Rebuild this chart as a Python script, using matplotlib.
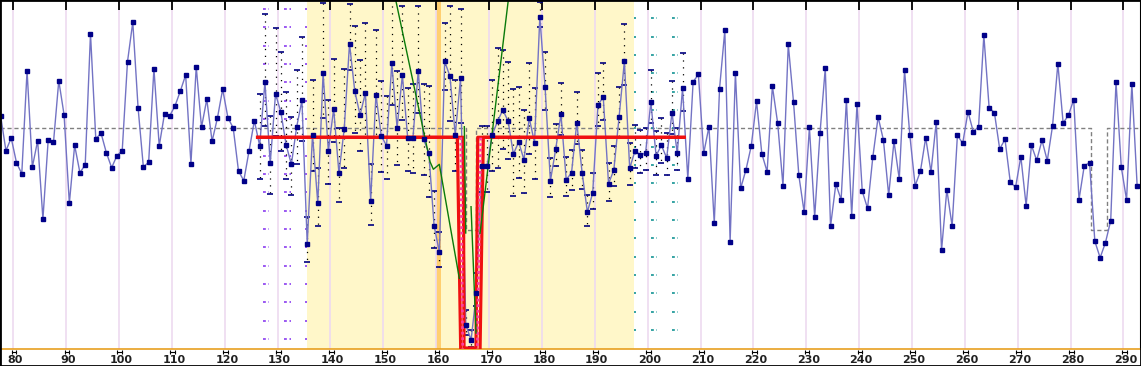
import numpy as np
import matplotlib
matplotlib.use('Agg')
import matplotlib.pyplot as plt
from matplotlib.patches import Rectangle
from matplotlib.transforms import ScaledTranslation

# cadence numbers and measured depth (screen-like units, larger = fainter)
first_cadence = 77
depth = [
    115.7, 150.7, 138.0, 162.7, 173.7, 70.7, 167.0, 140.7, 219.0, 139.7,   # 77-86
    142.3, 80.7, 114.7, 203.3, 145.3, 172.7, 164.7, 33.7, 138.7, 133.3,    # 87-96
    152.7, 167.7, 155.7, 150.7, 61.7, 22.0, 107.7, 167.0, 162.3, 68.7,     # 97-106
    146.0, 113.7, 115.7, 105.7, 91.0, 75.0, 163.7, 66.7, 127.3, 99.3,      # 107-116
    141.3, 118.3, 89.3, 117.7, 128.0, 171.0, 180.7, 150.7, 120.7, 145.7,   # 117-126
    82.0, 163.3, 94.0, 111.7, 144.7, 164.3, 127.0, 100.3, 243.7, 134.7,    # 127-136
    203.3, 73.3, 151.0, 108.7, 173.3, 128.7, 43.7, 91.3, 115.0, 93.0,      # 137-146
    200.7, 94.7, 135.7, 145.7, 63.3, 128.0, 75.0, 137.7, 137.7, 71.0,      # 147-156
    139.3, 152.7, 225.7, 252.3, 61.3, 76.3, 135.0, 78.3, 325.0, 340.0,     # 157-166
    292.7, 166.3, 166.3, 134.7, 121.3, 110.0, 121.0, 154.0, 142.0, 159.7,  # 167-176
    118.0, 142.7, 17.0, 87.3, 181.0, 149.3, 114.3, 179.7, 172.7, 122.7,    # 177-186
    172.7, 212.0, 193.0, 105.0, 97.0, 183.7, 170.0, 116.7, 61.3, 168.3,    # 187-196
    151.0, 154.7, 153.3, 102.0, 155.7, 145.3, 158.0, 112.7, 153.0, 88.3,   # 197-206
    178.7, 82.0, 74.3, 153.3, 126.7, 223.3, 88.7, 30.3, 241.7, 72.7,       # 207-216
    188.3, 169.7, 146.0, 101.3, 153.7, 171.7, 86.3, 123.3, 185.7, 44.3,    # 217-226
    102.3, 175.3, 212.0, 127.3, 217.0, 133.3, 68.3, 226.3, 184.0, 199.7,   # 227-236
    100.0, 216.0, 104.0, 191.3, 208.3, 157.0, 117.0, 140.0, 195.3, 141.3,  # 237-246
    179.0, 70.3, 135.3, 185.7, 171.3, 137.7, 172.0, 121.7, 250.0, 189.7,   # 247-256
    226.0, 135.3, 143.3, 111.7, 131.7, 126.7, 35.3, 107.7, 112.7, 149.0,   # 257-266
    139.3, 182.0, 187.3, 156.7, 205.7, 145.3, 160.3, 140.3, 160.7, 125.7,  # 267-276
    63.7, 123.0, 115.3, 99.7, 199.7, 165.7, 162.7, 241.3, 257.7, 242.7,    # 277-286
    220.7, 81.7, 167.0, 200.0, 84.0, 185.7,                                # 287-292
]
cadence_offset = 0.6

# error bars for cadences 126-206 (toward top / toward bottom)
err_first = 126
err_up = [
    52, 68, 47, 66, 60, 53, 47, 57, 63, 27,
    55, 35, 70, 51, 50, 45, 60, 40, 65, 55,
    70, 37, 65, 55, 50, 65, 57, 69, 50, 54,
    65, 55, 67, 35, 20, 38, 70, 55, 69, 15,
    10, 20, 40, 40, 55, 73, 60, 59, 65, 55,
    50, 55, 55, 15, 35, 23, 25, 31, 23, 23,
    31, 23, 17, 20, 32, 34, 21, 24, 30, 37,
    25, 26, 25, 25, 32, 25, 27, 25, 32, 25, 35,
]
err_dn = [
    33, 44, 31, 42, 39, 34, 31, 37, 41, 18,
    36, 23, 45, 33, 33, 29, 39, 26, 42, 36,
    45, 24, 42, 36, 33, 42, 37, 45, 33, 35,
    42, 36, 44, 22, 15, 29, 45, 36, 45, 10,
    7, 13, 26, 26, 36, 47, 39, 38, 42, 36,
    33, 36, 36, 10, 23, 16, 17, 21, 16, 17,
    21, 16, 14, 16, 21, 23, 17, 16, 20, 24,
    17, 17, 18, 17, 21, 19, 18, 17, 21, 17, 23,
]

# reference transit template (dashed)
template_x = [77.4, 165.6, 165.6, 167.6, 167.6, 283.9, 283.9, 286.9, 286.9, 293.4]
template_y = [128.0, 128.0, 230.0, 230.0, 128.0, 128.0, 230.0, 230.0, 128.0, 128.0]

# box fit: outer / inner envelope and best model
fit_lo_x = [126.2, 164.0, 164.64, 168.29, 168.91, 206.9]
fit_lo_y = [137.3, 137.3, 352.0, 352.0, 137.3, 137.3]
fit_hi_x = [126.2, 165.13, 165.26, 167.53, 167.86, 206.9]
fit_hi_y = [137.3, 137.3, 348.0, 348.0, 137.3, 137.3]
fit_mid_x = [164.64, 165.02, 167.78, 168.42]
fit_mid_y = [137.3, 351.0, 351.0, 137.3]

# single-event fit (green)
green_x = [152.34, 158.83, 159.46, 160.59, 164.37]
green_y = [0.0, 161.7, 169.3, 164.3, 278.3]
green_in1_x = [165.32, 165.59]
green_in1_y = [126.7, 233.0]
green_in2_x = [166.59, 167.53]
green_in2_y = [206.7, 333.0]
green2_x = [168.29, 173.64]
green2_y = [233.3, 0.0]

window = (135.6, 197.4)
event = (159.9, 161.0)

purple_cols = [(127.2, 128.4), (131.2, 132.5), (135.2, 135.6)]
teal_cols = [(197.4, 197.8), (200.6, 201.8), (204.6, 205.7)]

ticks = list(range(80, 300, 10))

cad = np.arange(first_cadence, first_cadence + len(depth))
t = cad + cadence_offset
depth = np.array(depth)

fig = plt.figure(figsize=(11.41, 3.66), dpi=100)
ax = fig.add_axes([0, 17 / 366, 1, 349 / 366])
ax.set_xlim(77.48, 293.33)
ax.set_ylim(349, 0)

ax.axvspan(*window, color='#FFF7C9', zorder=0, lw=0)
ax.axvspan(*event, color='#FFCF70', zorder=0.5, lw=0)
for tk in ticks:
    ax.axvline(tk, color='#EEDAF0', lw=1.2, zorder=0.6)

ax.plot(template_x, template_y, color='#808080', lw=1, ls=(0, (3, 2)), zorder=1)

# dash columns
rows_p = np.linspace(9, 339, 19)
for x0, x1 in purple_cols:
    ax.hlines(rows_p, x0, x1, color='#8A3CF0', lw=1.2, linestyles=(0, (1.7, 1.6)), zorder=1)
rows_t = np.linspace(18.3, 330, 18)
for x0, x1 in teal_cols:
    ax.hlines(rows_t, x0, x1, color='#139494', lw=1.2, linestyles=(0, (1.7, 1.6)), zorder=1)

# error bars
i0 = err_first - first_cadence
et = t[i0:i0 + len(err_up)]
ed = depth[i0:i0 + len(err_up)]
top = ed - np.array(err_up)
bot = ed + np.array(err_dn)
ax.vlines(et, top, bot, color='black', lw=0.9, linestyles=(0, (1, 4.5)), zorder=2)
ax.plot(et, top, ls='none', marker='_', ms=4.5, mew=1.2, color='#000080', zorder=2.5)
ax.plot(et, bot, ls='none', marker='_', ms=4.5, mew=1.2, color='#000080', zorder=2.5)

ax.plot(t, depth, color='#7373C4', lw=1, zorder=3)

ax.plot(fit_lo_x, fit_lo_y, color='#F01010', lw=2.3, zorder=4)
ax.plot(fit_hi_x, fit_hi_y, color='#F01010', lw=2.3, zorder=4)
ax.plot(fit_mid_x, fit_mid_y, color='#FF40A0', lw=2, ls=(0, (1, 1)), zorder=4.2)

for gx, gy in [(green_x, green_y), (green_in1_x, green_in1_y),
               (green_in2_x, green_in2_y), (green2_x, green2_y)]:
    ax.plot(gx, gy, color='#0A7A0A', lw=1, zorder=4.5)

ax.plot(t, depth, ls='none', marker='s', ms=3.3, color='#000088', zorder=5)

# axes styling
for s in ['left', 'top', 'right']:
    ax.spines[s].set_color('black')
    ax.spines[s].set_linewidth(1.5)
ax.spines['bottom'].set_color('#E8A020')
ax.spines['bottom'].set_linewidth(1.2)
ax.set_yticks([])
ax.set_xticks(ticks)
ax.set_xticklabels([str(v) for v in ticks], fontsize=8, fontweight='bold', color='#202020')
ax.tick_params(axis='x', direction='out', length=0, pad=4)
shift = ScaledTranslation(2 / 100, 0, fig.dpi_scale_trans)
for lab in ax.get_xticklabels():
    lab.set_transform(lab.get_transform() + shift)
ax.vlines(ticks, 0.97, 1.0, transform=ax.get_xaxis_transform(), color='black', lw=1.3)
tr = ax.get_xaxis_transform()
for tk in ticks:
    ax.plot([tk - 0.3, tk + 0.6], [-0.008, -0.008], transform=tr, color='black', lw=0.8,
            marker='|', ms=3, mew=0.8, clip_on=False)

fig.add_artist(Rectangle((0, 0), 1, 1, transform=fig.transFigure, fill=False,
                         edgecolor='black', lw=2))

fig.savefig('out.png', dpi=100)
